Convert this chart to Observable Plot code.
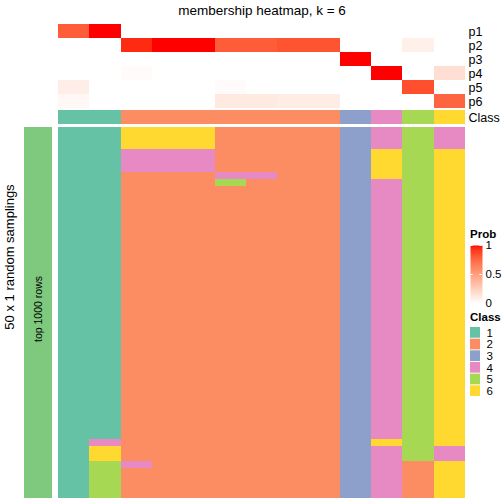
<!DOCTYPE html>
<html>
<head>
<meta charset="utf-8">
<script src="https://cdn.jsdelivr.net/npm/d3@7"></script>
<script src="https://cdn.jsdelivr.net/npm/@observablehq/plot@0.6"></script>
<style>
  body { margin: 0; background: white; }
  #root { position: relative; width: 504px; height: 504px; overflow: hidden; font-family: "Liberation Sans", Arial, sans-serif; }
  #root > * { position: absolute; }
  .t { white-space: nowrap; color: black; }
</style>
</head>
<body>
<div id="root"></div>
<script>
// ---------- data ----------
const samples = ["1","2","3","4","5","6","7","8","9","10","11","12","13"];
const probRows = ["p1","p2","p3","p4","p5","p6"];
const p1 = [0.80, 1.00, 0, 0, 0, 0, 0, 0, 0, 0, 0, 0, 0];
const p2 = [0, 0, 0.95, 1.00, 1.00, 0.80, 0.80, 0.83, 0.83, 0, 0, 0.08, 0];
const p3 = [0, 0, 0, 0, 0, 0, 0, 0, 0, 1.00, 0, 0, 0];
const p4 = [0, 0, 0.02, 0, 0, 0, 0, 0, 0, 0, 1.00, 0, 0.17];
const p5 = [0.09, 0, 0, 0, 0, 0.02, 0, 0, 0, 0, 0, 0.85, 0];
const p6 = [0.04, 0, 0, 0, 0, 0.11, 0.11, 0.10, 0.10, 0, 0, 0, 0.77];
const sampleClass = ["1","1","2","2","2","2","2","2","2","3","4","5","6"];
const classes = ["1","2","3","4","5","6"];
const classColors = ["#66C2A5","#FC8D62","#8DA0CB","#E78AC3","#A6D854","#FFD92F"];
// 50 random samplings: class of each sample per sampling (one string per sample, 50 rows)
const samplingClass = [
  "11111111111111111111111111111111111111111111111111",
  "11111111111111111111111111111111111111111146655555",
  "66644422222222222222222222222222222222222222242222",
  "66644422222222222222222222222222222222222222222222",
  "66644422222222222222222222222222222222222222222222",
  "22222245222222222222222222222222222222222222222222",
  "22222242222222222222222222222222222222222222222222",
  "22222222222222222222222222222222222222222222222222",
  "22222222222222222222222222222222222222222222222222",
  "33333333333333333333333333333333333333333333333333",
  "44466664444444444444444444444444444444444464444444",
  "55555555555555555555555555555555555555555555522222",
  "44466666666666666666666666666666666666666664466666"
];
const probTitle = "Prob";
const classTitle = "Class";
const probTicks = [0, 0.5, 1];
const titleText = "membership heatmap, k = 6";
const rowTitle = "50 x 1 random samplings";
const barLabel = "top 1000 rows";

// ---------- helpers ----------
const FONT = "Liberation Sans, Arial, sans-serif";
const root = document.getElementById("root");
function place(el, left, top) { el.style.left = left + "px"; el.style.top = top + "px"; root.appendChild(el); return el; }
const probColor = {type: "linear", domain: [0, 1], range: ["white", "red"], interpolate: "lab"};
const classColor = {type: "ordinal", domain: classes, range: classColors};
const xBand = {type: "band", domain: samples, padding: 0, round: false, axis: null};
const common = {width: 504, marginLeft: 58, marginRight: 39, marginTop: 0, marginBottom: 0,
  style: {fontFamily: FONT, fontSize: "12px", background: "transparent", overflow: "visible"}};

// ---------- probability rows ----------
const probData = [];
[p1, p2, p3, p4, p5, p6].forEach((arr, r) => arr.forEach((v, i) => probData.push({s: samples[i], row: probRows[r], v})));
place(Plot.plot({
  ...common, height: 84,
  x: xBand,
  y: {type: "band", domain: probRows, padding: 0, round: false, axis: null},
  color: probColor,
  marks: [
    Plot.cell(probData, {x: "s", y: "row", fill: "v", shapeRendering: "crispEdges"}),
    Plot.axisY({anchor: "right", tickSize: 0, tickPadding: 3, fontSize: 12.5, label: null})
  ]
}), 0, 24);

// ---------- class row ----------
place(Plot.plot({
  ...common, height: 14,
  x: xBand,
  y: {type: "band", domain: [classTitle], padding: 0, round: false, axis: null},
  color: classColor,
  marks: [
    Plot.cell(samples.map((s, i) => ({s, row: classTitle, c: sampleClass[i]})), {x: "s", y: "row", fill: "c", shapeRendering: "crispEdges"}),
    Plot.axisY({anchor: "right", tickSize: 0, tickPadding: 3, fontSize: 12.5, label: null})
  ]
}), 0, 110);

// ---------- main heatmap ----------
const samplingRows = d3.range(1, 51).map(String);
const mainData = [];
samplingClass.forEach((str, i) => str.split("").forEach((c, r) => mainData.push({s: samples[i], r: samplingRows[r], c})));
place(Plot.plot({
  ...common, height: 371,
  x: xBand,
  y: {type: "band", domain: samplingRows, padding: 0, round: false, axis: null},
  color: classColor,
  marks: [
    Plot.cell(mainData, {x: "s", y: "r", fill: "c", shapeRendering: "crispEdges"})
  ]
}), 0, 127);

// ---------- left bar ----------
place(Plot.plot({
  width: 28, height: 371, margin: 0,
  style: {fontFamily: FONT, background: "transparent", overflow: "visible"},
  x: {type: "band", domain: [barLabel], padding: 0, round: false, axis: null},
  y: {type: "band", domain: [barLabel], padding: 0, round: false, axis: null},
  marks: [
    Plot.cell([barLabel], {x: d => d, y: d => d, fill: "#7FC97F", shapeRendering: "crispEdges"}),
    Plot.text([barLabel], {x: d => d, y: d => d, text: d => d, rotate: -90, fontSize: 10.5, fill: "black", dy: -4})
  ]
}), 24, 127);

// ---------- title & row title ----------
const t = document.createElement("div");
t.className = "t"; t.textContent = titleText;
t.style.width = "524px"; t.style.textAlign = "center"; t.style.fontSize = "13.5px"; t.style.lineHeight = "16px";
place(t, 0, 3);

const rt = document.createElement("div");
rt.className = "t"; rt.textContent = rowTitle;
rt.style.fontSize = "13px"; rt.style.lineHeight = "16px"; rt.style.width = "200px"; rt.style.textAlign = "center";
rt.style.transform = "rotate(-90deg)"; rt.style.transformOrigin = "100px 8px";
place(rt, 10 - 100, 257 - 8);

// ---------- legends ----------
const pt = document.createElement("div");
pt.className = "t"; pt.textContent = probTitle;
pt.style.fontWeight = "bold"; pt.style.fontSize = "11.5px"; pt.style.lineHeight = "13px";
place(pt, 470, 228);

place(Plot.plot({
  width: 34, height: 68, marginLeft: 0, marginRight: 22, marginTop: 7, marginBottom: 3,
  style: {fontFamily: FONT, background: "transparent", overflow: "visible"},
  x: {domain: [0, 1], axis: null},
  y: {domain: [0, 1], axis: null},
  color: probColor,
  marks: [
    Plot.raster({x1: 0, x2: 1, y1: 0, y2: 1, width: 1, height: 100, fill: (x, y) => y}),
    Plot.ruleY(probTicks.filter(d => d > 0), {x1: 0, x2: 0.22, stroke: "white", strokeWidth: 1}),
    Plot.ruleY(probTicks.filter(d => d > 0), {x1: 0.78, x2: 1, stroke: "white", strokeWidth: 1}),
    Plot.axisY({anchor: "right", ticks: probTicks, tickFormat: d => String(d), tickSize: 0, tickPadding: 3, fontSize: 11.5, label: null})
  ]
}), 470, 238);

const ct = document.createElement("div");
ct.className = "t"; ct.textContent = classTitle;
ct.style.fontWeight = "bold"; ct.style.fontSize = "11.5px"; ct.style.lineHeight = "13px";
place(ct, 470, 311);

place(Plot.plot({
  width: 34, height: 69, marginLeft: 0, marginRight: 24, marginTop: 0, marginBottom: 0,
  style: {fontFamily: FONT, background: "transparent", overflow: "visible"},
  x: {type: "band", domain: [classTitle], padding: 0, round: false, axis: null},
  y: {type: "band", domain: classes, paddingInner: 0.08, paddingOuter: 0, round: false, axis: null},
  color: classColor,
  marks: [
    Plot.cell(classes, {x: () => classTitle, y: d => d, fill: d => d}),
    Plot.axisY({anchor: "right", tickSize: 0, tickPadding: 6, fontSize: 11.5, label: null})
  ]
}), 470, 327);
</script>
</body>
</html>
